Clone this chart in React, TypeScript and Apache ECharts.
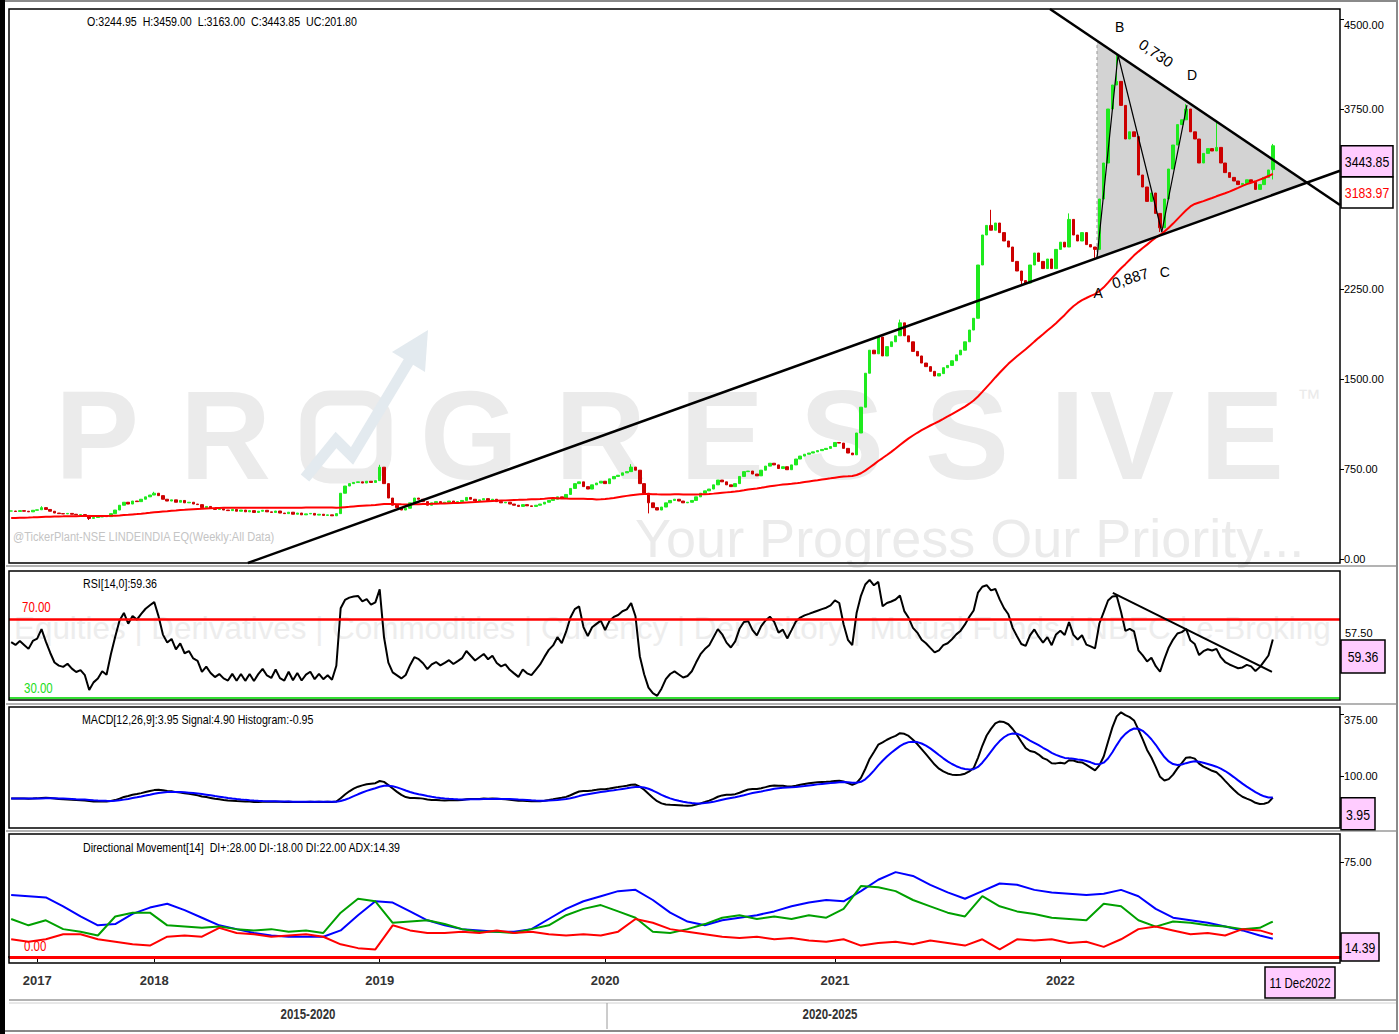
import React, { useEffect, useRef } from "react";
import * as echarts from "echarts";

// ---------------- DATA ----------------
const START_UTC = Date.UTC(2017, 4, 14); // first weekly bar
const FUTURE_WEEKS = 15; // empty space on the right of the chart
const MONTHS = ["Jan", "Feb", "Mar", "Apr", "May", "Jun", "Jul", "Aug", "Sep", "Oct", "Nov", "Dec"];

// weekly closes
const closes: number[] = [
  400, 396, 403, 398, 393, 406, 410, 428, 413, 398,
  383, 378, 376, 380, 373, 368, 370, 363, 338, 346,
  350, 358, 353, 378, 408, 448, 473, 458, 483, 478,
  498, 518, 533, 548, 528, 498, 483, 493, 473, 488,
  468, 473, 458, 453, 428, 438, 423, 413, 418, 408,
  403, 413, 398, 408, 393, 403, 388, 398, 406, 393,
  388, 400, 383, 378, 390, 373, 383, 368, 376, 380,
  366, 373, 363, 368, 360, 378, 548, 608, 628, 638,
  643, 633, 648, 638, 653, 765, 628, 508, 448, 428,
  408, 423, 468, 508, 498, 478, 448, 468, 478, 463,
  473, 483, 468, 478, 488, 513, 498, 483, 493, 503,
  488, 498, 478, 468, 473, 458, 448, 438, 453, 443,
  438, 448, 458, 473, 488, 498, 518, 508, 538, 588,
  628, 643, 603, 583, 618, 633, 648, 628, 668, 688,
  698, 718, 728, 766, 740, 628, 548, 468, 428, 408,
  433, 468, 488, 498, 483, 468, 473, 488, 518, 548,
  568, 583, 618, 658, 643, 618, 603, 628, 688, 728,
  733, 708, 693, 740, 774, 798, 784, 754, 769, 744,
  784, 833, 858, 873, 883, 893, 903, 913, 922, 937,
  971, 966, 922, 883, 868, 1050, 1265, 1548, 1740, 1710,
  1850, 1692, 1770, 1810, 1860, 1968, 1860, 1810, 1730, 1692,
  1633, 1603, 1564, 1525, 1545, 1594, 1613, 1652, 1701, 1740,
  1810, 1908, 2006, 2450, 2700, 2780, 2740, 2800, 2720, 2650,
  2600, 2480, 2400, 2320, 2300, 2450, 2550, 2480, 2420, 2500,
  2420, 2580, 2640, 2600, 2830, 2700, 2650, 2720, 2620, 2600,
  2580, 3000, 3300, 3750, 3950, 3980, 3780, 3500, 3560, 3520,
  3200, 3100, 2980, 3050, 2880, 2760, 3000, 3250, 3450, 3620,
  3660, 3750, 3560, 3500, 3300, 3380, 3420, 3400, 3430, 3300,
  3220, 3180, 3150, 3120, 3130, 3160, 3140, 3080, 3120, 3180,
  3242.05, 3443.85,
];
const lastBar = { open: 3244.95, high: 3459.0, low: 3163.0, close: 3443.85 };
// visible wick extremes [weekIndex, value]
const highMarks: [number, number][] = [[7, 440], [33, 560], [85, 785], [143, 790], [205, 1995], [226, 2910], [244, 2880], [255, 4215], [271, 3790], [278, 3640]];
const lowMarks: [number, number][] = [[18, 325], [147, 380], [233, 2280], [250, 2510], [265, 2725]];

// Directional Movement (sampled every 4 weeks, last sample = last week)
const DMI_STEP = 4;
const adxVals = [49, 48, 47, 40, 32, 25, 26, 34, 39, 42, 37, 31, 25, 22, 19, 17, 16, 16, 16, 21, 33, 44, 43, 36, 29, 25, 22, 21, 20, 20, 22, 30, 38, 44, 48, 52, 53, 45, 35, 28, 25, 29, 31, 33, 36, 40, 43, 45, 44, 52, 61, 67, 64, 57, 51, 46, 52, 58, 57, 53, 51, 50, 49, 50, 53, 48, 38, 31, 29, 27, 24, 21, 17, 14.39];
const diPlusVals = [30, 25, 29, 22, 20, 17, 32, 35, 35, 25, 24, 23, 24, 22, 21, 22, 20, 21, 19, 35, 46, 44, 27, 28, 29, 26, 22, 20, 20, 19, 22, 25, 33, 38, 41, 36, 31, 20, 19, 22, 26, 31, 33, 30, 32, 30, 33, 31, 38, 56, 55, 52, 45, 40, 35, 32, 48, 40, 36, 34, 31, 30, 29, 42, 40, 29, 24, 28, 27, 25, 24, 22, 23, 28];
const diMinusVals = [14, 12, 14, 18, 18, 14, 12, 10, 9, 16, 17, 16, 23, 19, 18, 16, 17, 18, 16, 10, 7, 6, 25, 21, 19, 19, 20, 19, 21, 19, 20, 18, 17, 18, 17, 20, 30, 27, 22, 20, 18, 16, 15, 16, 14, 15, 13, 12, 14, 9, 11, 12, 10, 13, 11, 9, 14, 6, 14, 13, 14, 11, 12, 8, 14, 22, 24, 21, 18, 19, 17, 22, 21, 18];

// axis labels
const yearLabels = ["2017", "2018", "2019", "2020", "2021", "2022"];
const yearTickIndex = [6, 33, 85, 137, 190, 242];
const periodLabels = ["2015-2020", "2020-2025"];
const hiddenPriceTicks = [3000]; // covered by the value boxes in the reference

// displayed indicator values
const maLastLabel = 3183.97;
const rsiLastLabel = 59.36;
const rsiMidLabel = 57.5;
const macdLastLabel = 3.95;
const adxLastLabel = 14.39;
const rsiSeed = { gain: 7, loss: 5 };
const maPriorAvg = 340; // level of the 50-week average before the first visible week

// drawn annotations, in (weekIndex, value) coordinates
const supportLine: [number, number][] = [[54.6, -33], [306.5, 3235]];
const resistanceLine: [number, number][] = [[239.6, 4583], [306.5, 2950]];
const triangle: [number, number][] = [[250.45, 2508], [250.45, 4318], [298.9, 3136]];
const abcd: [number, number][] = [[250.45, 2508], [255.3, 4200], [265.4, 2725], [271.2, 3783]];
const abcdLabels: [string, number, number][] = [["A", 250.7, 2217], ["B", 255.7, 4433], ["C", 266.1, 2392], ["D", 272.4, 4033]];
const ratioLabels: [string, number, number, number][] = [["0,730", 264.1, 4217, -0.6], ["0,887", 258.1, 2342, 0.3]];
const rsiTrend: [number, number][] = [[254.1, 83.2], [290.8, 43.2]];

// ---------------- DERIVED ----------------
const NBARS = closes.length;
const TOTAL = NBARS + FUTURE_WEEKS;
const categories = Array.from({ length: TOTAL }, (_, i) => {
  const d = new Date(START_UTC + i * 7 * 86400000);
  return `${d.getUTCDate()} ${MONTHS[d.getUTCMonth()]}${d.getUTCFullYear()}`;
});
const opens = closes.map((c, i) => (i === 0 ? c : closes[i - 1]));
opens[NBARS - 1] = lastBar.open;
const highs = closes.map((c, i) => Math.max(c, opens[i]));
const lows = closes.map((c, i) => Math.min(c, opens[i]));
highMarks.forEach(([i, v]) => (highs[i] = Math.max(highs[i], v)));
lowMarks.forEach(([i, v]) => (lows[i] = Math.min(lows[i], v)));
highs[NBARS - 1] = lastBar.high;
lows[NBARS - 1] = lastBar.low;
const ohlc = closes.map((c, i) => [opens[i], c, lows[i], highs[i]]);

function sma(a: number[], n: number, prior: number) {
  let s = 0;
  return a.map((v, i) => {
    s += v;
    if (i >= n) s -= a[i - n];
    const missing = Math.max(0, n - 1 - i);
    return +((s + missing * prior) / n).toFixed(2);
  });
}
function ema(a: number[], n: number) {
  const k = 2 / (n + 1);
  let e = a[0];
  return a.map((v) => (e = e + (v - e) * k));
}
function rsi(a: number[], n: number) {
  let g = rsiSeed.gain, l = rsiSeed.loss;
  return a.map((v, i) => {
    if (i > 0) {
      const ch = v - a[i - 1];
      g = g + ((ch > 0 ? ch : 0) - g) / n;
      l = l + ((ch < 0 ? -ch : 0) - l) / n;
    }
    return +(100 - 100 / (1 + g / l)).toFixed(2);
  });
}
const ma50 = sma(closes, 50, maPriorAvg);
const rsi14 = rsi(closes, 14);
const e12 = ema(closes, 12);
const e26 = ema(closes, 26);
const macdLine = e12.map((v, i) => +(v - e26[i]).toFixed(2));
const signalLine = ema(macdLine, 9).map((v) => +v.toFixed(2));
const dmiIndex = adxVals.map((_, k) => (k < adxVals.length - 1 ? k * DMI_STEP : NBARS - 1));
function spread(vals: number[]) {
  const out: (number | null)[] = new Array(NBARS).fill(null);
  vals.forEach((v, k) => (out[dmiIndex[k]] = v));
  return out;
}

const SANS = "'Liberation Sans', Arial, Helvetica, sans-serif";
const NARROW_SCALE = 0.82; // emulates the narrow font of the original
const PINK = "#ffccff";

function buildOption(): any {
  const grids = [
    { left: 9, right: 59, top: 19, height: 540 },
    { left: 9, right: 59, top: 619, height: 79 },
    { left: 9, right: 59, top: 714, height: 62 },
    { left: 9, right: 59, top: 862, height: 95 },
  ];
  const isYear = (idx: number) => yearTickIndex.indexOf(idx) >= 0;
  const xAxis = grids.map((_, k) => ({
    type: "category",
    gridIndex: k,
    data: categories,
    boundaryGap: true,
    offset: k === 3 ? 6 : 0,
    axisLine: { show: k === 3, lineStyle: { color: "#000", width: 2 } },
    axisTick: { show: k === 3, interval: (idx: number) => isYear(idx), alignWithLabel: true, length: 5, lineStyle: { color: "#000" } },
    axisLabel: {
      show: k === 3,
      interval: (idx: number) => isYear(idx),
      formatter: (_v: string, idx: number) => {
        const p = yearTickIndex.indexOf(idx);
        return p >= 0 ? yearLabels[p] : "";
      },
      color: "#333",
      fontSize: 13,
      fontWeight: "bold",
      fontFamily: SANS,
      margin: 11,
    },
    splitLine: { show: false },
  }));
  const lab = { color: "#000", fontSize: 11, fontFamily: SANS, margin: 4 };
  const tick = { show: true, length: 4, lineStyle: { color: "#000" } };
  const yAxis = [
    {
      type: "value", gridIndex: 0, position: "right", min: 0, max: 4500, interval: 750,
      axisLine: { show: false }, axisTick: tick,
      axisLabel: { ...lab, verticalAlignMaxLabel: "top", formatter: (v: number) => (hiddenPriceTicks.indexOf(v) >= 0 ? "" : v.toFixed(2)) },
      splitLine: { show: false },
    },
    { type: "value", gridIndex: 1, position: "right", min: 30, max: 70, axisLine: { show: false }, axisTick: { show: false }, axisLabel: { show: false }, splitLine: { show: false } },
    { type: "value", gridIndex: 2, position: "right", min: 100, max: 375, interval: 275, axisLine: { show: false }, axisTick: tick, axisLabel: { ...lab, verticalAlignMaxLabel: "top", formatter: (v: number) => v.toFixed(2) }, splitLine: { show: false } },
    { type: "value", gridIndex: 3, position: "right", min: 0, max: 75, interval: 75, axisLine: { show: false }, axisTick: tick, axisLabel: { ...lab, formatter: (v: number) => (v === 75 ? v.toFixed(2) : "") }, splitLine: { show: false } },
  ];
  const line = (name: string, data: any[], color: string, xi: number, width = 2, extra: any = {}) => ({
    name,
    type: "line",
    xAxisIndex: xi,
    yAxisIndex: xi,
    data,
    symbol: "none",
    clip: false,
    lineStyle: { color, width },
    itemStyle: { color },
    z: 3,
    ...extra,
  });
  return {
    animation: false,
    backgroundColor: "#fff",
    grid: grids,
    xAxis,
    yAxis,
    series: [
      {
        name: "LINDEINDIA",
        type: "candlestick",
        xAxisIndex: 0,
        yAxisIndex: 0,
        data: ohlc,
        barWidth: 3,
        itemStyle: { color: "#1eea1e", color0: "#cc0000", borderColor: "#1eea1e", borderColor0: "#cc0000", borderColorDoji: "#1eea1e", borderWidth: 1 },
        z: 2,
      },
      line("MA50", ma50, "#ff0000", 0, 2),
      line("RSI", rsi14, "#000", 1, 2, {
        markLine: {
          silent: true,
          symbol: "none",
          label: { show: false },
          animation: false,
          data: [
            { yAxis: 70, lineStyle: { color: "#ff0000", width: 2.5, type: "solid" } },
            { yAxis: 30, lineStyle: { color: "#33dd33", width: 2, type: "solid" } },
          ],
        },
      }),
      line("MACD", macdLine, "#000", 2, 2),
      line("Signal", signalLine, "#0000ff", 2, 2),
      line("ADX", spread(adxVals), "#0000ff", 3, 2, { connectNulls: true }),
      line("DI+", spread(diPlusVals), "#00a000", 3, 2, { connectNulls: true }),
      line("DI-", spread(diMinusVals), "#ff0000", 3, 2, {
        connectNulls: true,
        markLine: {
          silent: true,
          symbol: "none",
          label: { show: false },
          animation: false,
          data: [{ yAxis: 0, lineStyle: { color: "#ff0000", width: 3, type: "solid" } }],
        },
      }),
    ],
  };
}

function buildGraphics(chart: any): any[] {
  const x0 = chart.convertToPixel({ xAxisIndex: 0 }, 0) as number;
  const x1 = chart.convertToPixel({ xAxisIndex: 0 }, TOTAL - 1) as number;
  const X = (i: number) => x0 + ((x1 - x0) * i) / (TOTAL - 1);
  const Y = (k: number, v: number) => chart.convertToPixel({ yAxisIndex: k }, v) as number;
  const P = (p: [number, number], k = 0) => [X(p[0]), Y(k, p[1])];
  const g: any[] = [];
  // narrow texts (default) get horizontally compressed
  const txt = (text: string, x: number, y: number, o: any = {}, z = 6, rotation = 0, narrow = true) =>
    g.push({
      type: "text", x, y, z, rotation, scaleX: narrow ? NARROW_SCALE : 1, silent: true,
      style: { text, fill: "#000", fontSize: 13, fontFamily: SANS, align: "left", verticalAlign: "middle", ...o },
    });
  const ln = (x1: number, y1: number, x2: number, y2: number, stroke: string, lineWidth = 1, z = 5, lineDash?: number[]) =>
    g.push({ type: "line", z, silent: true, shape: { x1, y1, x2, y2 }, style: { stroke, lineWidth, lineDash } });
  const rect = (x: number, y: number, w: number, h: number, fill: string, stroke: string, lineWidth = 1, z = 5) =>
    g.push({ type: "rect", z, silent: true, shape: { x, y, width: w, height: h }, style: { fill, stroke, lineWidth } });

  // ---- watermark ----
  const wm = "#ebebeb";
  const letters: [string, number][] = [["P", 55], ["R", 180], ["G", 420], ["R", 555], ["E", 680], ["S", 800], ["S", 925], ["I", 1050], ["V", 1090], ["E", 1200]];
  letters.forEach(([c, x]) => txt(c, x, 435, { fill: wm, fontSize: 126, fontWeight: "bold" }, 0, 0, false));
  txt("™", 1297, 397, { fill: wm, fontSize: 24 }, 0, 0, false);
  g.push({ type: "rect", z: 0, silent: true, shape: { x: 308, y: 398, width: 76, height: 78, r: 22 }, style: { fill: "none", stroke: wm, lineWidth: 15 } });
  g.push({ type: "polyline", z: 0, silent: true, shape: { points: [[305, 478], [336, 440], [352, 456], [418, 346]] }, style: { stroke: "#e3eaef", lineWidth: 11, fill: "none" } });
  g.push({ type: "polygon", z: 0, silent: true, shape: { points: [[428, 330], [425, 372], [392, 352]] }, style: { fill: "#e3eaef" } });
  txt("Your Progress Our Priority...", 635, 538, { fill: wm, fontSize: 54 }, 0, 0, false);
  txt("Equities | Derivatives | Commodities | Currency | Depository | Mutual Funds | NBFC | e-Broking", 14, 628, { fill: "#ededed", fontSize: 31.4 }, 0, 0, false);
  txt("@TickerPlant-NSE LINDEINDIA EQ(Weekly:All Data)", 13, 537, { fill: "#c4c4c4", fontSize: 13.5 }, 1);

  // ---- triangle / pattern annotations ----
  g.push({ type: "polygon", z: 1, silent: true, shape: { points: triangle.map((p) => P(p)) }, style: { fill: "#d3d3d3" } });
  {
    const a = P(triangle[0]), b = P(triangle[1]);
    ln(a[0], a[1], b[0], b[1], "#999", 1, 1, [3, 3]);
  }
  [supportLine, resistanceLine].forEach((L) => {
    const a = P(L[0]), b = P(L[1]);
    ln(a[0], a[1], b[0], b[1], "#000", 2.5, 5);
  });
  g.push({ type: "polyline", z: 5, silent: true, shape: { points: abcd.map((p) => P(p)) }, style: { stroke: "#000", lineWidth: 1.2, fill: "none" } });
  abcdLabels.forEach(([t, i, v]) => txt(t, X(i), Y(0, v), { fontSize: 14, align: "center" }, 6, 0, false));
  ratioLabels.forEach(([t, i, v, r]) => txt(t, X(i), Y(0, v), { fontSize: 15, align: "center" }, 6, r, false));
  {
    const a = P(rsiTrend[0], 1), b = P(rsiTrend[1], 1);
    ln(a[0], a[1], b[0], b[1], "#000", 2, 5);
  }

  // ---- panel frames and separators ----
  const frames: [number, number][] = [[9, 563], [571, 700], [707, 828], [834, 963]];
  frames.forEach(([t, b]) => rect(9, t, 1331, b - t, "none", "#000", 1.5, 7));
  [566, 704, 831].forEach((y) => ln(6, y, 1397, y, "#9a9a9a", 1.5, 7));
  ln(9, 1000, 1397, 1000, "#9a9a9a", 1.5, 7);
  ln(9, 1003, 1397, 1003, "#d0d0d0", 1, 7);
  ln(607, 1003, 607, 1029, "#9a9a9a", 1, 7);
  // outer border
  rect(1, 1, 1396, 1030, "none", "#8a8a8a", 2, 8);
  rect(0, 0, 5, 1034, "#000", "none", 0, 8);

  // ---- titles / labels ----
  txt("O:3244.95  H:3459.00  L:3163.00  C:3443.85  UC:201.80", 87, 22);
  txt("RSI[14,0]:59.36", 83, 584);
  txt("MACD[12,26,9]:3.95 Signal:4.90 Histogram:-0.95", 82, 720);
  txt("Directional Movement[14]  DI+:28.00 DI-:18.00 DI:22.00 ADX:14.39", 83, 848);
  txt("70.00", 22, 607, { fill: "#ff0000", fontSize: 14 });
  txt("30.00", 24, 688, { fill: "#22dd22", fontSize: 14 });
  txt("0.00", 24, 946, { fill: "#ff0000", fontSize: 14 });
  txt(rsiMidLabel.toFixed(2), 1345, Y(1, rsiMidLabel) - 11, { fontSize: 11 }, 6, 0, false);
  ln(1340, Y(1, rsiMidLabel), 1344, Y(1, rsiMidLabel), "#000", 1, 6);
  txt(periodLabels[0], 308, 1014, { fontSize: 14, fontWeight: "bold", fill: "#333", align: "center" });
  txt(periodLabels[1], 830, 1014, { fontSize: 14, fontWeight: "bold", fill: "#333", align: "center" });

  // ---- value boxes on the right ----
  const box = (label: string, top: number, w: number, h: number, fill: string, color: string) => {
    rect(1341, top, w, h, fill, "#000", 1.5, 20);
    txt(label, 1341 + w / 2, top + h / 2 + 1, { fontSize: 15, fill: color, align: "center" }, 21);
  };
  box(closes[NBARS - 1].toFixed(2), Y(0, closes[NBARS - 1]), 52, 31, PINK, "#000");
  box(maLastLabel.toFixed(2), Y(0, maLastLabel), 52, 31, "#fff", "#ff0000");
  box(rsiLastLabel.toFixed(2), Y(1, rsiLastLabel), 44, 33, PINK, "#000");
  box(macdLastLabel.toFixed(2), Y(2, macdLastLabel), 34, 32, PINK, "#000");
  box(adxLastLabel.toFixed(2), Math.min(Y(3, adxLastLabel), 961 - 28), 38, 28, PINK, "#000");
  rect(1265, 967, 70, 31, PINK, "#000", 1.5, 20);
  txt(categories[NBARS - 1], 1300, 983, { fontSize: 14, align: "center" }, 21);
  return g;
}

export default function App() {
  const ref = useRef<HTMLDivElement>(null);
  useEffect(() => {
    document.body.style.margin = "0";
    const chart = echarts.init(ref.current as HTMLDivElement, undefined, { renderer: "svg" });
    chart.setOption(buildOption());
    chart.setOption({ graphic: buildGraphics(chart) });
    return () => chart.dispose();
  }, []);
  return <div ref={ref} style={{ position: "absolute", left: 0, top: 0, width: 1399, height: 1034, background: "#fff" }} />;
}
